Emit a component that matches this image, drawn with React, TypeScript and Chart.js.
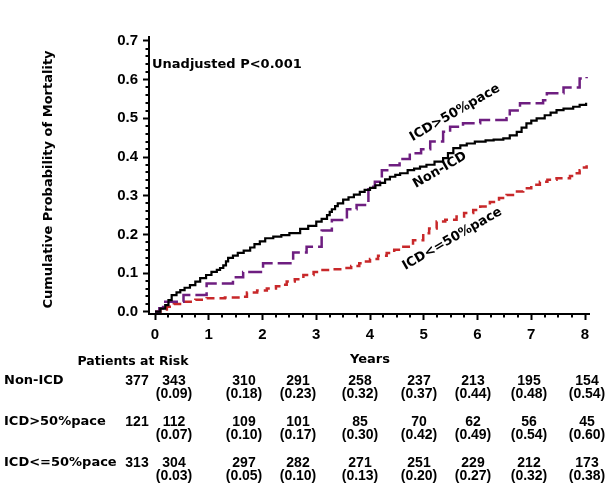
import React, { useEffect, useRef } from 'react';
import { Chart, registerables } from 'chart.js';

Chart.register(...registerables);

// ---- Data ----
const xTickValues = [0, 1, 2, 3, 4, 5, 6, 7, 8];
const yTickValues = [0, 0.1, 0.2, 0.3, 0.4, 0.5, 0.6, 0.7];

const seriesNames = ['Non-ICD', 'ICD>50%pace', 'ICD<=50%pace'];

const nonIcdTimes = [0, 0.1, 0.19, 0.25, 0.31, 0.4, 0.47, 0.55, 0.65, 0.75, 0.84, 0.95, 1.05, 1.15, 1.21, 1.27, 1.32, 1.36, 1.45, 1.54, 1.65, 1.77, 1.85, 1.95, 2.05, 2.2, 2.35, 2.5, 2.7, 2.85, 3.0, 3.1, 3.2, 3.25, 3.29, 3.35, 3.4, 3.5, 3.6, 3.7, 3.81, 3.9, 4.0, 4.1, 4.19, 4.28, 4.37, 4.47, 4.56, 4.7, 4.82, 4.93, 5.05, 5.2, 5.36, 5.45, 5.55, 5.68, 5.8, 5.95, 6.15, 6.3, 6.48, 6.6, 6.73, 6.82, 6.91, 7.0, 7.1, 7.25, 7.36, 7.47, 7.6, 7.78, 7.9, 8.02];
const nonIcdValues = [0, 0.008, 0.017, 0.03, 0.043, 0.05, 0.056, 0.062, 0.069, 0.078, 0.087, 0.095, 0.103, 0.108, 0.113, 0.12, 0.13, 0.139, 0.145, 0.152, 0.158, 0.166, 0.175, 0.182, 0.19, 0.194, 0.198, 0.203, 0.214, 0.222, 0.233, 0.24, 0.25, 0.258, 0.265, 0.273, 0.28, 0.29, 0.296, 0.303, 0.31, 0.315, 0.32, 0.327, 0.333, 0.342, 0.349, 0.354, 0.358, 0.366, 0.37, 0.375, 0.38, 0.388, 0.397, 0.41, 0.423, 0.43, 0.435, 0.44, 0.443, 0.445, 0.448, 0.456, 0.465, 0.476, 0.487, 0.494, 0.5, 0.508, 0.515, 0.521, 0.525, 0.53, 0.535, 0.54];

const icdHighTimes = [0, 0.08, 0.15, 0.19, 0.53, 0.96, 1.45, 1.64, 2.01, 2.57, 2.82, 3.1, 3.29, 3.57, 3.75, 3.97, 4.09, 4.22, 4.37, 4.55, 4.74, 4.95, 5.12, 5.36, 5.49, 5.73, 6.05, 6.54, 6.6, 6.79, 7.22, 7.29, 7.6, 7.9, 8.03];
const icdHighValues = [0, 0.009, 0.018, 0.026, 0.043, 0.073, 0.089, 0.103, 0.125, 0.153, 0.168, 0.21, 0.237, 0.265, 0.276, 0.323, 0.336, 0.366, 0.379, 0.395, 0.41, 0.42, 0.44, 0.465, 0.478, 0.487, 0.496, 0.5, 0.52, 0.539, 0.547, 0.565, 0.58, 0.603, 0.607];

const icdLowTimes = [0, 0.1, 0.22, 0.35, 0.53, 0.75, 0.96, 1.3, 1.58, 1.71, 1.9, 2.08, 2.25, 2.35, 2.45, 2.6, 2.76, 2.95, 3.07, 3.3, 3.5, 3.65, 3.8, 3.9, 4.0, 4.15, 4.31, 4.45, 4.62, 4.8, 4.99, 5.1, 5.24, 5.4, 5.61, 5.75, 5.92, 6.05, 6.23, 6.4, 6.54, 6.7, 6.85, 7.0, 7.16, 7.3, 7.47, 7.72, 7.8, 7.9, 7.98, 8.03];
const icdLowValues = [0, 0.006, 0.013, 0.02, 0.026, 0.031, 0.035, 0.037, 0.039, 0.05, 0.055, 0.06, 0.066, 0.07, 0.078, 0.084, 0.095, 0.103, 0.108, 0.11, 0.113, 0.118, 0.125, 0.13, 0.136, 0.145, 0.152, 0.16, 0.168, 0.185, 0.203, 0.215, 0.233, 0.238, 0.246, 0.255, 0.263, 0.272, 0.284, 0.294, 0.302, 0.311, 0.319, 0.328, 0.336, 0.341, 0.345, 0.351, 0.358, 0.366, 0.373, 0.379];

// Patients at risk table
const nonIcdAtRisk = [377, 343, 310, 291, 258, 237, 213, 195, 154];
const nonIcdCum = [null, 0.09, 0.18, 0.23, 0.32, 0.37, 0.44, 0.48, 0.54];
const icdHighAtRisk = [121, 112, 109, 101, 85, 70, 62, 56, 45];
const icdHighCum = [null, 0.07, 0.1, 0.17, 0.3, 0.42, 0.49, 0.54, 0.6];
const icdLowAtRisk = [313, 304, 297, 282, 271, 251, 229, 212, 173];
const icdLowCum = [null, 0.03, 0.05, 0.1, 0.13, 0.2, 0.27, 0.32, 0.38];

const pValueText = 'Unadjusted P<0.001';
const yAxisTitle = 'Cumulative Probability of Mortality';
const xAxisTitle = 'Years';
const riskTitle = 'Patients at Risk';

// ---- Styles / layout ----
const WORD_FONT = 'bold 13px "DejaVu Sans", sans-serif';
const NUM_FONT = 'bold 14px "Liberation Sans", Arial, sans-serif';
const colors = ['#000000', '#6e1e80', '#c8282a'];
const dashes: number[][] = [[], [14, 5], [8, 5]];
const riskColX = [137, 174, 244, 298, 360, 419, 473, 529, 587];
const riskRowY = [381, 422, 463];
const curveLabelAnchors = [
  { x: 5.3, y: 0.366, angle: 30 },
  { x: 5.58, y: 0.514, angle: 30 },
  { x: 5.53, y: 0.188, angle: 30 },
];

const extrasPlugin = {
  id: 'extras',
  afterDraw(chart: any) {
    const ctx: CanvasRenderingContext2D = chart.ctx;
    const xs = chart.scales.x;
    const ys = chart.scales.y;
    const area = chart.chartArea;
    ctx.save();
    ctx.strokeStyle = '#000';
    ctx.fillStyle = '#000';
    ctx.lineWidth = 2;
    // minor ticks
    ctx.beginPath();
    for (let i = 0; i <= 32; i++) {
      if (i % 4 === 0) continue;
      const px = Math.round(xs.getPixelForValue(i / 4));
      ctx.moveTo(px, area.bottom);
      ctx.lineTo(px, area.bottom + 3.5);
    }
    for (let i = 0; i <= 35; i++) {
      if (i % 5 === 0) continue;
      const py = Math.round(ys.getPixelForValue(i * 0.02));
      ctx.moveTo(area.left, py);
      ctx.lineTo(area.left - 3.5, py);
    }
    ctx.stroke();

    // p value
    ctx.font = WORD_FONT;
    ctx.textAlign = 'left';
    ctx.textBaseline = 'middle';
    ctx.fillText(pValueText, area.left + 3, ys.getPixelForValue(0.638));

    // curve labels
    ctx.textAlign = 'center';
    curveLabelAnchors.forEach((a, i) => {
      ctx.save();
      ctx.translate(xs.getPixelForValue(a.x), ys.getPixelForValue(a.y));
      ctx.rotate((-a.angle * Math.PI) / 180);
      ctx.fillText(seriesNames[i], 0, 0);
      ctx.restore();
    });

    // y axis title
    ctx.save();
    ctx.translate(49, (area.top + area.bottom) / 2 + 4);
    ctx.rotate(-Math.PI / 2);
    ctx.fillText(yAxisTitle, 0, 0);
    ctx.restore();

    // x axis title
    ctx.fillText(xAxisTitle, (xs.getPixelForValue(0) + xs.getPixelForValue(8)) / 2, 360);

    // risk table
    ctx.font = 'bold 12.5px "DejaVu Sans", sans-serif';
    ctx.fillText(riskTitle, 133, 362);
    const counts = [nonIcdAtRisk, icdHighAtRisk, icdLowAtRisk];
    const cums = [nonIcdCum, icdHighCum, icdLowCum];
    counts.forEach((row, r) => {
      ctx.font = WORD_FONT;
      ctx.textAlign = 'left';
      ctx.fillText(seriesNames[r], 4, riskRowY[r]);
      ctx.font = NUM_FONT;
      ctx.textAlign = 'center';
      row.forEach((n, c) => {
        ctx.fillText(String(n), riskColX[c], riskRowY[r]);
        const p = cums[r][c];
        if (p !== null) ctx.fillText('(' + p.toFixed(2) + ')', riskColX[c], riskRowY[r] + 13);
      });
    });
    ctx.restore();
  },
};

export default function App() {
  const ref = useRef<HTMLCanvasElement>(null);
  useEffect(() => {
    const canvas = ref.current!;
    const toPts = (t: number[], v: number[]) => t.map((x, i) => ({ x, y: v[i] }));
    const seriesData = [
      toPts(nonIcdTimes, nonIcdValues),
      toPts(icdHighTimes, icdHighValues),
      toPts(icdLowTimes, icdLowValues),
    ];
    const tickFont = { family: '"Liberation Sans", Arial, sans-serif', size: 15, weight: 'bold' as const };
    const chart = new Chart(canvas, {
      type: 'line',
      data: {
        datasets: seriesData.map((d, i) => ({
          label: seriesNames[i],
          data: d,
          borderColor: colors[i],
          borderWidth: i === 0 ? 2.2 : 2.5,
          borderDash: dashes[i],
          stepped: 'before' as const,
          pointRadius: 0,
          fill: false,
        })),
      },
      options: {
        animation: false,
        responsive: false,
        devicePixelRatio: 1,
        layout: { padding: { left: 0, top: 37, right: 20, bottom: 0 } },
        plugins: {
          legend: { display: false },
          tooltip: { enabled: false },
        },
        scales: {
          x: {
            type: 'linear',
            min: -0.112,
            max: 8.074,
            afterBuildTicks: (s: any) => {
              s.ticks = xTickValues.map((v) => ({ value: v }));
            },
            afterFit: (s: any) => {
              s.height = 176;
            },
            grid: { display: true, drawOnChartArea: false, drawTicks: true, tickLength: 6, tickWidth: 2, tickColor: '#000' },
            border: { display: true, color: '#000', width: 2 },
            ticks: { color: '#000', font: tickFont, padding: 6, maxRotation: 0, autoSkip: false, callback: (v: any) => String(v) },
          },
          y: {
            type: 'linear',
            min: -0.0059,
            max: 0.7103,
            afterBuildTicks: (s: any) => {
              s.ticks = yTickValues.map((v) => ({ value: v }));
            },
            afterFit: (s: any) => {
              s.width = 149;
            },
            grid: { display: true, drawOnChartArea: false, drawTicks: true, tickLength: 6, tickWidth: 2, tickColor: '#000' },
            border: { display: true, color: '#000', width: 2 },
            ticks: { color: '#000', font: tickFont, padding: 5, autoSkip: false, callback: (v: any) => Number(v).toFixed(1) },
          },
        },
      },
      plugins: [extrasPlugin],
    });
    return () => chart.destroy();
  }, []);
  return (
    <div style={{ position: 'fixed', left: 0, top: 0, width: 609, height: 490, background: '#fff' }}>
      <canvas ref={ref} width={609} height={490} style={{ display: 'block', width: 609, height: 490 }} />
    </div>
  );
}
